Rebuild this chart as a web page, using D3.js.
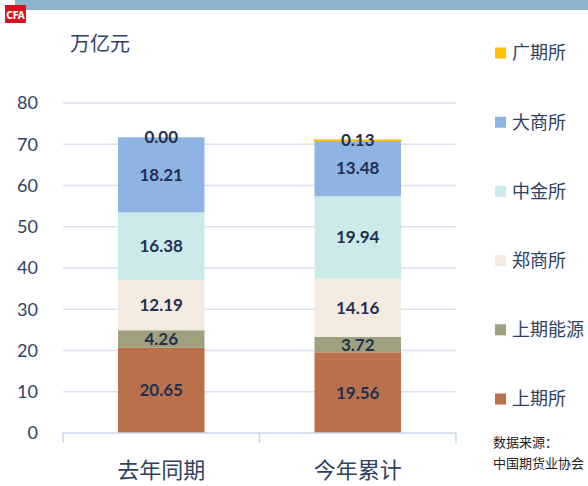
<!DOCTYPE html>
<html>
<head>
<meta charset="utf-8">
<script src="https://cdn.jsdelivr.net/npm/d3@7"></script>
<style>
  body { margin: 0; background: #fff; }
  svg { display: block; }
</style>
</head>
<body>
<div id="chart"></div>
<script>
// data
var categories = ["去年同期", "今年累计"];
var seriesNames = ["上期所", "上期能源", "郑商所", "中金所", "大商所", "广期所"];
var shfe   = [20.65, 19.56];
var ine    = [4.26, 3.72];
var czce   = [12.19, 14.16];
var cffex  = [16.38, 19.94];
var dce    = [18.21, 13.48];
var gfex   = [0.00, 0.13];
var yTicks = [0, 10, 20, 30, 40, 50, 60, 70, 80];

var colors = ["#B9704B", "#A0A07E", "#F4EAE0", "#CDEAEA", "#8EB4E3", "#FFC000"];
var cjk = "'Noto Sans CJK SC', sans-serif";
var num = "Lato, 'Noto Sans', sans-serif";

var svgWidth = 588, svgHeight = 486;
var margin = { top: 103, right: 132, bottom: 53, left: 63 };
var width = svgWidth - margin.left - margin.right;
var height = svgHeight - margin.top - margin.bottom;

var svg = d3.select("#chart").append("svg")
  .attr("width", svgWidth)
  .attr("height", svgHeight);

// header strip + logo
svg.append("rect").attr("x", 15).attr("y", 0).attr("width", svgWidth - 15).attr("height", 10).attr("fill", "#8AB4CC");
svg.append("rect").attr("x", 5).attr("y", 5).attr("width", 21).attr("height", 18).attr("fill", "#D7131B");
svg.append("text").attr("x", 15.5).attr("y", 19).attr("text-anchor", "middle")
  .attr("font-family", "'DejaVu Sans Condensed', sans-serif").attr("font-weight", "bold")
  .attr("font-size", "10px").attr("fill", "#fff").text("CFA");

var rows = categories.map(function(c, i) {
  return { cat: c, "上期所": shfe[i], "上期能源": ine[i], "郑商所": czce[i],
           "中金所": cffex[i], "大商所": dce[i], "广期所": gfex[i] };
});
var stacked = d3.stack().keys(seriesNames)(rows);

var x = d3.scaleBand().domain(categories).range([0, width]).paddingInner(0.56).paddingOuter(0.28);
var y = d3.scaleLinear().domain([0, 80]).range([height, 0]);

var g = svg.append("g").attr("transform", `translate(${margin.left}, ${margin.top})`);

// gridlines
g.selectAll(".grid").data(yTicks.slice(1)).enter().append("line")
  .attr("x1", 0).attr("x2", width)
  .attr("y1", d => y(d)).attr("y2", d => y(d))
  .attr("stroke", "#D9E1F2").attr("stroke-width", 1.5);

// y tick labels
g.selectAll(".ylab").data(yTicks).enter().append("text")
  .attr("x", -25).attr("y", d => y(d)).attr("dy", "0.35em")
  .attr("text-anchor", "end").attr("font-family", num)
  .attr("font-size", "18px").attr("fill", "#2E4160").text(d => d);

// bars
var layers = g.selectAll(".layer").data(stacked).enter().append("g")
  .attr("fill", (d, i) => colors[i]);
layers.selectAll("rect").data(d => d).enter().append("rect")
  .attr("x", d => x(d.data.cat))
  .attr("y", d => y(d[1]))
  .attr("width", x.bandwidth())
  .attr("height", d => Math.max(y(d[0]) - y(d[1]), 0.0))
  .attr("stroke", (d) => (d[1] - d[0]) > 0 && (d[1] - d[0]) < 0.5 ? "#FFC000" : "none")
  .attr("stroke-width", 1.5);

// value labels
layers.selectAll("text").data(d => d).enter().append("text")
  .attr("x", d => x(d.data.cat) + x.bandwidth() / 2)
  .attr("y", d => y((d[0] + d[1]) / 2))
  .attr("dy", "0.35em").attr("text-anchor", "middle")
  .attr("font-family", num).attr("font-weight", "bold")
  .attr("font-size", "17px").attr("fill", "#1F3050")
  .text(d => (d[1] - d[0]).toFixed(2));

// x axis
var axis = g.append("g").attr("transform", `translate(0, ${height})`);
axis.append("line").attr("x1", 0).attr("x2", width).attr("y1", 0).attr("y2", 0)
  .attr("stroke", "#C9D6EA").attr("stroke-width", 1.5);
axis.selectAll(".tick").data([0, 1, 2]).enter().append("line")
  .attr("x1", d => d * width / 2).attr("x2", d => d * width / 2)
  .attr("y1", 0).attr("y2", 10)
  .attr("stroke", "#C9D6EA").attr("stroke-width", 1.5);
axis.selectAll(".xlab").data(categories).enter().append("text")
  .attr("x", d => x(d) + x.bandwidth() / 2).attr("y", 45)
  .attr("text-anchor", "middle").attr("font-family", cjk)
  .attr("font-size", "22px").attr("fill", "#2E4160").text(d => d);

// unit
svg.append("text").attr("x", 70).attr("y", 51).attr("font-family", cjk)
  .attr("font-size", "20px").attr("fill", "#2E4160").text("万亿元");

// legend (top = 广期所)
var legendY = d3.scalePoint().domain(seriesNames.slice().reverse()).range([53, 399]);
var leg = svg.selectAll(".leg").data(seriesNames).enter().append("g")
  .attr("transform", d => `translate(495, ${legendY(d)})`);
leg.append("rect").attr("x", 0).attr("y", -5.5).attr("width", 11).attr("height", 11)
  .attr("fill", (d, i) => colors[i]);
leg.append("text").attr("x", 17).attr("y", 0).attr("dy", "0.36em")
  .attr("font-family", cjk).attr("font-size", "18px").attr("fill", "#2E4160").text(d => d);

// source
svg.append("text").attr("x", 493).attr("y", 447).attr("font-family", cjk)
  .attr("font-size", "13px").attr("fill", "#222").text("数据来源：");
svg.append("text").attr("x", 493).attr("y", 468).attr("font-family", cjk)
  .attr("font-size", "13px").attr("fill", "#222").text("中国期货业协会");
</script>
</body>
</html>
